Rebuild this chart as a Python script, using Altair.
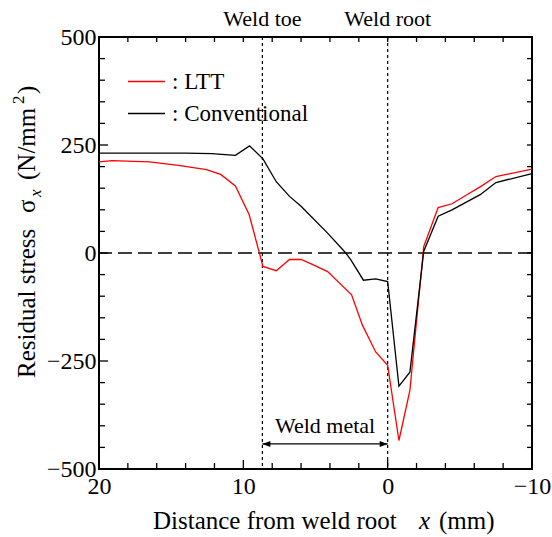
import altair as alt
import pandas as pd

# ---------------- data ----------------
ltt_x = [20, 19.1, 16.5, 14.5, 12.55, 11.57, 10.55, 9.6, 8.64, 7.72, 6.8, 6.0, 5.3, 4.16,
         2.5, 1.75, 0.83, 0.0, -0.78, -1.54, -2.5, -3.5, -4.46, -5.6, -6.41, -7.5, -10]
ltt_y = [211, 214, 211, 203, 193, 182, 155, 89, -31, -41, -15, -15, -25, -43,
         -97, -167, -229, -260, -434, -318, 15, 105, 114, 137, 153, 177, 194]

conv_x = [20, 18, 16, 14, 12.2, 10.55, 9.57, 8.64, 7.72, 6.8, 6.0, 4.16, 2.9, 2.55,
          1.68, 0.83, 0.0, -0.78, -1.54, -2.5, -3.5, -4.46, -6.41, -7.5, -10]
conv_y = [231, 231, 231, 231, 230, 226, 248, 218, 165, 131, 108, 46, 0, -16,
          -63, -60, -66, -308, -276, 4, 85, 100, 135, 163, 184]

series_names = ["LTT", "Conventional"]
series_colors = ["#ff0000", "#000000"]

x_major = [20, 10, 0, -10]
x_minor = [18, 16, 14, 12, 8, 6, 4, 2, -2, -4, -6, -8]
y_major = [500, 250, 0, -250, -500]
y_minor = [450, 400, 350, 300, 200, 150, 100, 50, -50, -100, -150, -200,
           -300, -350, -400, -450]

weld_pos = [8.68, 0.0]
weld_labels = ["Weld toe", "Weld root"]
metal_label = ["Weld metal"]
metal_y = [-442]
metal_text_y = [-400]

x_title_parts = ["Distance from weld root", "x", "(mm)"]
y_title_parts = ["Residual stress", "σ", "x", "(N/mm", "2", ")"]

# ---------------- layout ----------------
W, H = 433, 432
FONT = "Liberation Serif"

xs = alt.Scale(domain=[-10, 20], reverse=True, nice=False, zero=False)
ys = alt.Scale(domain=[-500, 500], nice=False, zero=False)

rows = []
for i, (a, b) in enumerate(zip(ltt_x, ltt_y)):
    rows.append({"x": a, "y": b, "series": series_names[0], "idx": i})
for i, (a, b) in enumerate(zip(conv_x, conv_y)):
    rows.append({"x": a, "y": b, "series": series_names[1], "idx": i})
df = pd.DataFrame(rows)

lines = alt.Chart(df).mark_line(strokeWidth=1.3).encode(
    x=alt.X("x:Q", scale=xs,
            axis=alt.Axis(values=x_major, ticks=False, domain=False, grid=False,
                          labelFont=FONT, labelFontSize=24, labelColor="black",
                          labelPadding=5, labelFlush=False, title=None, format="d")),
    y=alt.Y("y:Q", scale=ys,
            axis=alt.Axis(values=y_major, ticks=False, domain=False, grid=False,
                          labelFont=FONT, labelFontSize=24, labelColor="black",
                          labelPadding=3, labelFlush=False, title=None, format="d")),
    color=alt.Color("series:N",
                    scale=alt.Scale(domain=series_names, range=series_colors),
                    legend=alt.Legend(orient="none", legendX=28, legendY=25,
                                      title=None, symbolType="stroke",
                                      symbolSize=1369, symbolStrokeWidth=1.5,
                                      labelFont=FONT, labelFontSize=23,
                                      labelColor="black", labelOffset=6,
                                      rowPadding=-8, padding=0,
                                      labelExpr="': ' + datum.label")),
    order="idx:Q",
)

zero = alt.Chart(pd.DataFrame({"y": [0]})).mark_rule(
    color="black", strokeWidth=1.5, strokeDash=[14, 6]).encode(
    y=alt.Y("y:Q", scale=ys))

weld_df = pd.DataFrame({"x": weld_pos, "label": weld_labels})
weld_lines = alt.Chart(weld_df).mark_rule(
    color="black", strokeWidth=1.2, strokeDash=[3, 3]).encode(
    x=alt.X("x:Q", scale=xs))
weld_text = alt.Chart(weld_df).mark_text(
    font=FONT, fontSize=22, baseline="alphabetic", align="center", color="black").encode(
    x=alt.X("x:Q", scale=xs), y=alt.value(-11), text="label:N")

arrow_df = pd.DataFrame({"x": [weld_pos[0]], "x2": [weld_pos[1]], "y": metal_y})
arrow_line = alt.Chart(arrow_df).mark_rule(color="black", strokeWidth=1.2).encode(
    x=alt.X("x:Q", scale=xs), x2="x2:Q", y=alt.Y("y:Q", scale=ys))
head_l = alt.Chart(pd.DataFrame({"x": [weld_pos[0]], "y": metal_y})).mark_point(
    shape="M0,0L2,-0.75L2,0.75Z", size=64, filled=True, color="black", opacity=1).encode(
    x=alt.X("x:Q", scale=xs), y=alt.Y("y:Q", scale=ys))
head_r = alt.Chart(pd.DataFrame({"x": [weld_pos[1]], "y": metal_y})).mark_point(
    shape="M0,0L-2,-0.75L-2,0.75Z", size=64, filled=True, color="black", opacity=1).encode(
    x=alt.X("x:Q", scale=xs), y=alt.Y("y:Q", scale=ys))
metal_text = alt.Chart(pd.DataFrame({"x": [(weld_pos[0] + weld_pos[1]) / 2],
                                     "y": metal_text_y, "t": metal_label})).mark_text(
    font=FONT, fontSize=22, baseline="middle", align="center", color="black").encode(
    x=alt.X("x:Q", scale=xs), y=alt.Y("y:Q", scale=ys), text="t:N")

# ---------------- inward ticks ----------------
xmaj_df = pd.DataFrame({"x": x_major})
xmin_df = pd.DataFrame({"x": x_minor})
xall_df = pd.DataFrame({"x": x_major + x_minor})
ymaj_df = pd.DataFrame({"y": y_major})
ymin_df = pd.DataFrame({"y": y_minor})
yall_df = pd.DataFrame({"y": y_major + y_minor})

def xtick(d, y0, y1):
    return alt.Chart(d).mark_rule(color="black", strokeWidth=1.3).encode(
        x=alt.X("x:Q", scale=xs), y=alt.value(y0), y2=alt.value(y1))

def ytick(d, x0, x1):
    return alt.Chart(d).mark_rule(color="black", strokeWidth=1.3).encode(
        y=alt.Y("y:Q", scale=ys), x=alt.value(x0), x2=alt.value(x1))

ticks = [
    xtick(xmaj_df, H, H - 9), xtick(xmin_df, H, H - 6), xtick(xall_df, 0, 5),
    ytick(ymaj_df, 0, 9), ytick(ymin_df, 0, 6), ytick(yall_df, W, W - 5),
]

# ---------------- axis titles ----------------
def txt(t, x, y, size=25, italic=False, angle=None):
    kw = dict(font=FONT, fontSize=size, baseline="alphabetic", align="left",
              color="black")
    if italic:
        kw["fontStyle"] = "italic"
    if angle is not None:
        kw["angle"] = angle
    return alt.Chart(pd.DataFrame({"t": [t]})).mark_text(**kw).encode(
        x=alt.value(x), y=alt.value(y), text="t:N")

xt = [
    txt(x_title_parts[0], 54, 492),
    txt(x_title_parts[1], 320, 492, italic=True),
    txt(x_title_parts[2], 340, 492),
]
yt = [
    txt(y_title_parts[0], -64, 341, angle=270),
    txt(y_title_parts[1], -64, 176, angle=270),
    txt(y_title_parts[2], -58, 160, size=17, italic=True, angle=270),
    txt(y_title_parts[3], -64, 143, angle=270),
    txt(y_title_parts[4], -75, 67, size=17, angle=270),
    txt(y_title_parts[5], -64, 57, angle=270),
]

chart = alt.layer(
    zero, weld_lines, *ticks, lines, arrow_line, head_l, head_r, metal_text,
    weld_text, *xt, *yt
).properties(
    width=W, height=H,
    autosize=alt.AutoSizeParams(type="none"),
    padding={"left": 99, "top": 37, "right": 20, "bottom": 68},
).configure_view(stroke="black", strokeWidth=2)

chart.save("out.html", embed_options={"renderer": "svg", "actions": False})
